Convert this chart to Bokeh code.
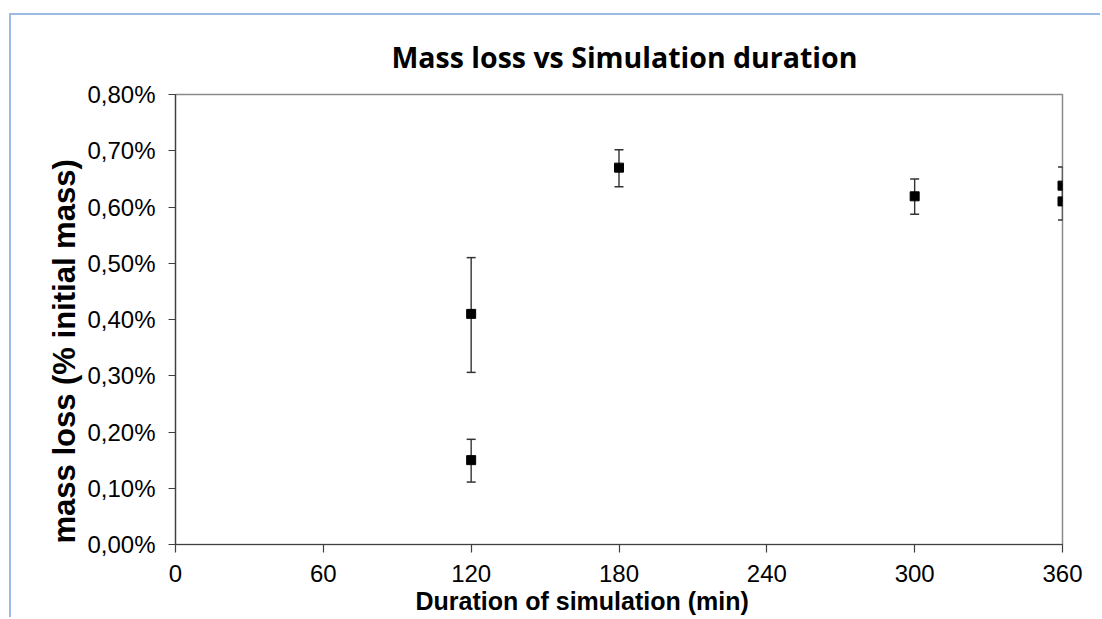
from bokeh.plotting import figure
from bokeh.models import (ColumnDataSource, Whisker, TeeHead, FixedTicker,
                          Range1d, Title)
from bokeh.embed import file_html
from bokeh.resources import INLINE

# ---- data (mass loss in % of initial mass) ----
duration_min = [120, 120, 180, 300, 360, 360]
mass_loss_pct = [0.41, 0.15, 0.67, 0.619, 0.638, 0.610]
err_upper = [0.510, 0.187, 0.702, 0.650, 0.671, 0.640]
err_lower = [0.306, 0.111, 0.636, 0.587, 0.610, 0.577]

x_ticks = [0, 60, 120, 180, 240, 300, 360]
y_ticks = [0.0, 0.1, 0.2, 0.3, 0.4, 0.5, 0.6, 0.7, 0.8]
y_tick_labels = ["0,00%", "0,10%", "0,20%", "0,30%", "0,40%",
                 "0,50%", "0,60%", "0,70%", "0,80%"]

W, H = 1091, 604

p = figure(width=W, height=H, output_backend="svg", toolbar_location=None,
           x_range=Range1d(0, 360), y_range=Range1d(0, 0.8),
           min_border_left=164, min_border_right=40,
           min_border_top=79, min_border_bottom=75)
# light-blue outer chart border (left / top edges visible in the window)
p.styles = {"margin-left": "9px", "margin-top": "13px",
            "border-left": "2px solid #9bbbe4",
            "border-top": "2px solid #9bbbe4"}

p.title.text = "Mass loss vs Simulation duration"
p.title.align = "left"
p.title.offset = 216
p.title.standoff = 38
p.title.text_font = "Open Sans"
p.title.text_font_style = "bold"
p.title.text_font_size = "28.5px"
p.title.text_color = "#000000"

p.grid.visible = False
p.outline_line_color = "#8a8a8a"
p.outline_line_width = 1.5
p.background_fill_color = "white"
p.border_fill_color = "white"

for ax in (p.xaxis[0], p.yaxis[0]):
    ax.axis_line_color = "#404040"
    ax.axis_line_width = 1.2
    ax.major_tick_line_color = "#404040"
    ax.major_tick_line_width = 1.2
    ax.major_tick_in = 0
    ax.minor_tick_line_color = None
    ax.major_label_text_font = "Liberation Sans"
    ax.major_label_text_font_size = "24px"
    ax.major_label_text_color = "#000000"

p.xaxis.major_tick_out = 8
p.yaxis.major_tick_out = 7
p.xaxis.ticker = FixedTicker(ticks=x_ticks)
p.yaxis.ticker = FixedTicker(ticks=y_ticks)
p.yaxis.major_label_overrides = {t: lab for t, lab in zip(y_ticks, y_tick_labels)}
p.xaxis.major_label_standoff = 12
p.yaxis.major_label_standoff = 13

# axis titles (placed as side titles so they can sit off-centre like the original)
xlab = Title(text="Duration of simulation (min)", align="left", offset=240,
             standoff=0, text_font="Liberation Sans", text_font_style="bold",
             text_font_size="25px", text_color="#000000")
p.add_layout(xlab, "below")
ylab = Title(text="mass loss (% initial mass)", align="left", offset=1,
             standoff=5, text_font="Liberation Sans", text_font_style="bold",
             text_font_size="31px", text_color="#000000")
p.add_layout(ylab, "left")

src = ColumnDataSource(dict(x=duration_min, y=mass_loss_pct,
                            upper=err_upper, lower=err_lower))

wh = Whisker(source=src, base="x", upper="upper", lower="lower",
             line_color="#333333", line_width=1.4,
             upper_head=TeeHead(size=9, line_color="#333333", line_width=1.5),
             lower_head=TeeHead(size=9, line_color="#333333", line_width=1.5))
p.add_layout(wh)

p.scatter("x", "y", source=src, marker="square", size=9,
          fill_color="black", line_color="black")

open("out.html", "w").write(file_html(p, INLINE))
